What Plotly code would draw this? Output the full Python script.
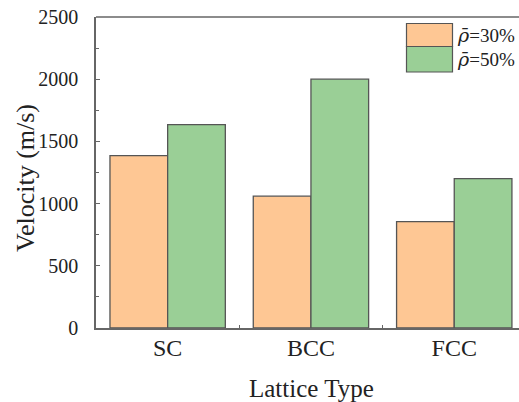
import plotly.graph_objects as go

# Lattice types and wave velocities for two relative densities
lattice = ["SC", "BCC", "FCC"]
velocity_30 = [1385, 1060, 855]
velocity_50 = [1635, 2000, 1200]
densities = ["30%", "50%"]
y_ticks = [0, 500, 1000, 1500, 2000, 2500]
x_title = "Lattice Type"
y_title = "Velocity (m/s)"

orange = "#FEC794"
green = "#9ACF96"
edge = "#555555"
axis_col = "#666666"
text_col = "#222222"
serif = "Liberation Serif"

W, H = 519, 402
ML, MR, MT, MB = 96, 0, 17, 74
plot_w = W - ML - MR
plot_h = H - MT - MB

# rho with a bar on top, drawn with a font that places combining marks well
rho_bar = '<span style="font-family:DejaVu Serif"><i>ρ̄</i></span>'
series_names = [rho_bar + "=" + d for d in densities]

fig = go.Figure()
for vals, col, name in [(velocity_30, orange, series_names[0]),
                        (velocity_50, green, series_names[1])]:
    fig.add_trace(go.Bar(
        x=lattice, y=vals, name=name,
        marker=dict(color=col, line=dict(color=edge, width=1.3)),
        showlegend=False,
    ))

cat_px = 143.3
x_right = -0.5 + plot_w / cat_px

fig.update_layout(
    width=W, height=H,
    margin=dict(l=ML, r=MR, t=MT, b=MB, autoexpand=False),
    paper_bgcolor="white", plot_bgcolor="white",
    barmode="group", bargap=0.195, bargroupgap=0,
    font=dict(family=serif, color=text_col),
    xaxis=dict(
        range=[-0.5, x_right], showline=True, linecolor=axis_col, linewidth=1.5,
        ticks="inside", tickson="boundaries", ticklen=3, tickcolor=axis_col,
        tickfont=dict(family=serif, size=24, color=text_col), ticklabelstandoff=-3,
        showgrid=False, zeroline=False,
    ),
    yaxis=dict(
        range=[0, 2500], tickvals=y_ticks, showline=True, linecolor=axis_col,
        linewidth=1.5, ticks="inside", ticklen=4, tickcolor=axis_col,
        minor=dict(ticks="inside", ticklen=3, dtick=250, tickcolor=axis_col),
        tickfont=dict(family=serif, size=20, color=text_col), ticklabelstandoff=12,
        showgrid=False, zeroline=False,
    ),
)

def px_x(px):
    return (px - ML) / plot_w

def px_y(py):
    return (H - MB - py) / plot_h

# axis titles
fig.add_annotation(xref="paper", yref="paper", x=px_x(311), y=px_y(388),
                   text=x_title, showarrow=False, xanchor="center", yanchor="middle",
                   font=dict(family=serif, size=25, color=text_col))
fig.add_annotation(xref="paper", yref="paper", x=px_x(26), y=px_y(178),
                   text=y_title, showarrow=False, xanchor="center", yanchor="middle",
                   textangle=-90, font=dict(family=serif, size=26, color=text_col))

# top frame line
fig.add_shape(type="line", xref="paper", yref="paper", x0=0, x1=1, y0=1, y1=1,
              line=dict(color=axis_col, width=1.5))

# legend swatches and labels
legend_rows = [(23.5, 46.5, orange, series_names[0]),
               (46.5, 72.0, green, series_names[1])]
for top, bot, col, name in legend_rows:
    mid = (top + bot) / 2
    fig.add_shape(type="rect", xref="paper", yref="paper",
                  x0=px_x(406.5), x1=px_x(452.5), y0=px_y(bot), y1=px_y(top),
                  fillcolor=col, line=dict(color=edge, width=1.2))
    fig.add_annotation(xref="paper", yref="paper", x=px_x(455), y=px_y(mid),
                       text=name, showarrow=False, xanchor="left", yanchor="middle",
                       font=dict(size=19, family=serif, color=text_col))

fig.write_html("out.html")
